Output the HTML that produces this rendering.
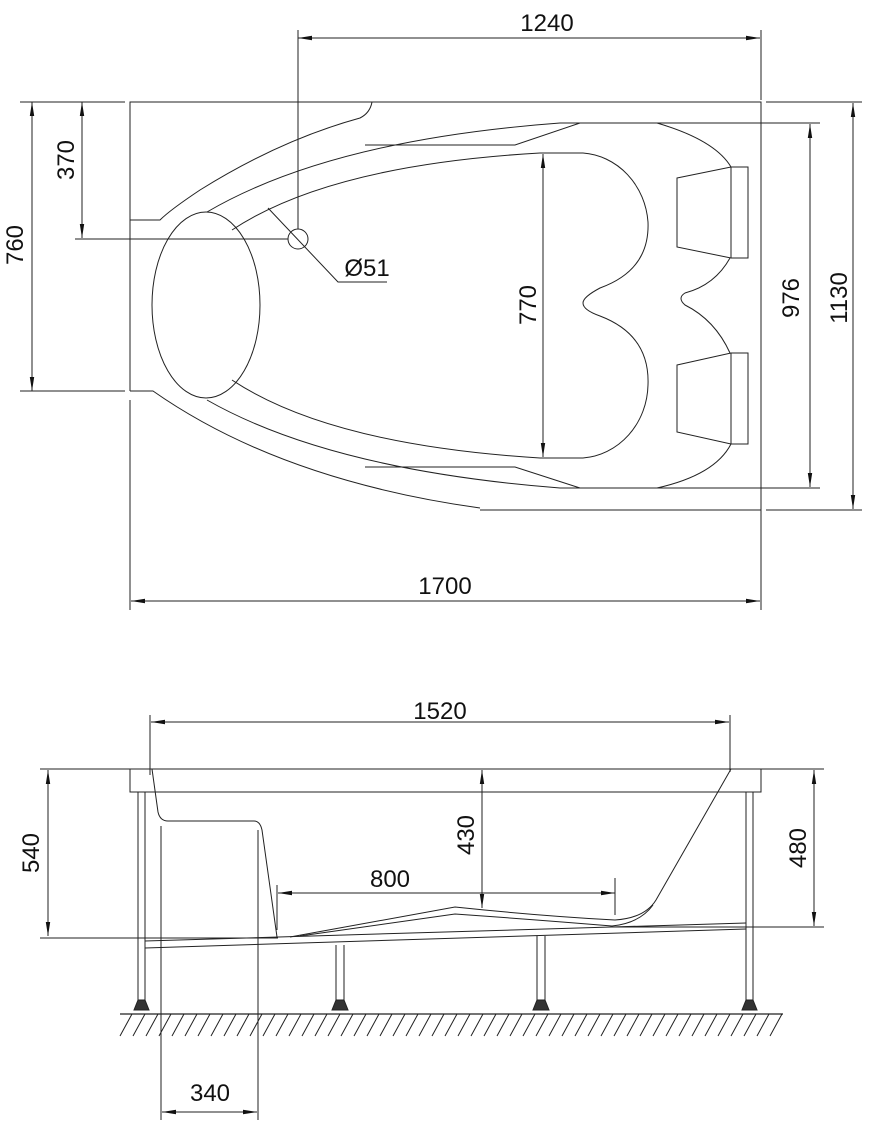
<!DOCTYPE html>
<html><head><meta charset="utf-8"><style>
html,body{margin:0;padding:0;background:#fff}
svg{display:block}
text{font-family:"Liberation Sans",sans-serif;font-size:24px;fill:#111;text-anchor:middle}
</style></head><body>
<svg width="869" height="1140" viewBox="0 0 869 1140" xmlns="http://www.w3.org/2000/svg">
<defs>
<marker id="a" markerWidth="14" markerHeight="6" refX="14" refY="3" orient="auto" markerUnits="userSpaceOnUse"><path d="M0,0.8 L14,3 L0,5.2z" fill="#111"/></marker>
<marker id="b" markerWidth="14" markerHeight="6" refX="0" refY="3" orient="auto" markerUnits="userSpaceOnUse"><path d="M14,0.8 L0,3 L14,5.2z" fill="#111"/></marker>
</defs>
<g fill="none" stroke="#222" stroke-width="1">
<path d="M130,391 V102 H761 V510 H480"/>
<path d="M130,220 H160 Q170,210 200,190 Q280,140 360,118 Q370,113 372,102"/>
<path d="M130,400 V610"/>
<path d="M130,391 H153 Q280,480 480,508"/>
<path d="M761,510 V610"/>
<path d="M207,212 Q330,140 560,123 H820"/>
<path d="M207,400 Q330,470 560,488 H820"/>
<path d="M232,230 Q330,165 540,153 H583 A70,75 0 0 1 648,222 Q650,270 600,288 Q583,297 583,303 Q583,310 600,316 Q650,335 648,385 A70,75 0 0 1 583,458 H540 Q330,445 232,380"/>
<path d="M365,145 H515 L580,123"/>
<path d="M365,467 H515 L580,488"/>
<ellipse cx="206" cy="305" rx="54" ry="93"/>
<path d="M657,123 Q715,140 731,167"/>
<path d="M677,178 L731,167 H748 V258 H731 L677,247 Z"/>
<path d="M731,167 V258"/>
<path d="M730,258 Q715,285 685,293 Q677,298 685,305 Q715,320 730,353"/>
<path d="M677,365 L731,353 H748 V444 H731 L677,432 Z"/>
<path d="M731,353 V444"/>
<path d="M731,444 Q715,475 657,488"/>
<circle cx="298" cy="239" r="10"/>
<path d="M75,239 H288"/>
<path d="M298,30 V229"/>
<path d="M268,208 L338,282 H387"/>
<path d="M298,38 H760" marker-start="url(#b)" marker-end="url(#a)"/>
<path d="M761,30 V100"/>
<path d="M20,102 H125"/><path d="M20,391 H125"/>
<path d="M32,102 V391" marker-start="url(#b)" marker-end="url(#a)"/>
<path d="M82,102 V238" marker-start="url(#b)" marker-end="url(#a)"/>
<path d="M810,124 V487" marker-start="url(#b)" marker-end="url(#a)"/>
<path d="M766,102 H862"/><path d="M766,510 H862"/>
<path d="M853,103 V509" marker-start="url(#b)" marker-end="url(#a)"/>
<path d="M543,154 V457" marker-start="url(#b)" marker-end="url(#a)"/>
<path d="M131,601 H760" marker-start="url(#b)" marker-end="url(#a)"/>
<rect x="130" y="769" width="631" height="23"/>
<path d="M761,769 H824"/><path d="M40,769 H130"/>
<path d="M150,715 V775"/><path d="M730,715 V772"/>
<path d="M151,722 H729" marker-start="url(#b)" marker-end="url(#a)"/>
<path d="M48,770 V936" marker-start="url(#b)" marker-end="url(#a)"/>
<path d="M40,938 H278"/>
<path d="M814,770 V926" marker-start="url(#b)" marker-end="url(#a)"/>
<path d="M610,927 H824"/>
<path d="M482,770 V908" marker-start="url(#b)" marker-end="url(#a)"/>
<path d="M278,893 H615" marker-start="url(#b)" marker-end="url(#a)"/>
<path d="M277,885 V930"/><path d="M615,878 V915"/>
<path d="M161,826 V1120"/><path d="M258,830 V1120"/>
<path d="M162,1112 H257" marker-start="url(#b)" marker-end="url(#a)"/>
<path d="M152,769 L158,812 Q160,821 168,821 H254 Q260,821 262,830 L277,937"/>
<path d="M731,769 L656,900 Q645,918 615,920 Q540,916 455,907 L290,937"/>
<path d="M653,905 Q640,923 612,926 Q540,920 455,914 L300,936"/>
<path d="M145,941 L746,923"/>
<path d="M145,948 L746,929"/>
<path d="M138,792 V1000 M145,792 V1000"/>
<path d="M746,792 V1000 M753,792 V1000"/>
<path d="M336,945 V1000 M344,945 V1000"/>
<path d="M537,936 V1000 M545,936 V1000"/>
<path d="M120,1014 H783" stroke-width="1.2"/>
</g>
<g fill="#333" stroke="#222">
<path d="M138,1000 L134,1010 H149 L145,1000Z"/>
<path d="M336,1000 L332,1010 H348 L344,1000Z"/>
<path d="M537,1000 L533,1010 H549 L545,1000Z"/>
<path d="M746,1000 L742,1010 H757 L753,1000Z"/>
</g>
<g stroke="#222" stroke-width="1" fill="none">
<path d="M132,1014 l-12,22 M145,1014 l-12,22 M158,1014 l-12,22 M171,1014 l-12,22 M184,1014 l-12,22 M197,1014 l-12,22 M210,1014 l-12,22 M223,1014 l-12,22 M236,1014 l-12,22 M249,1014 l-12,22 M262,1014 l-12,22 M275,1014 l-12,22 M288,1014 l-12,22 M301,1014 l-12,22 M314,1014 l-12,22 M327,1014 l-12,22 M340,1014 l-12,22 M353,1014 l-12,22 M366,1014 l-12,22 M379,1014 l-12,22 M392,1014 l-12,22 M405,1014 l-12,22 M418,1014 l-12,22 M431,1014 l-12,22 M444,1014 l-12,22 M457,1014 l-12,22 M470,1014 l-12,22 M483,1014 l-12,22 M496,1014 l-12,22 M509,1014 l-12,22 M522,1014 l-12,22 M535,1014 l-12,22 M548,1014 l-12,22 M561,1014 l-12,22 M574,1014 l-12,22 M587,1014 l-12,22 M600,1014 l-12,22 M613,1014 l-12,22 M626,1014 l-12,22 M639,1014 l-12,22 M652,1014 l-12,22 M665,1014 l-12,22 M678,1014 l-12,22 M691,1014 l-12,22 M704,1014 l-12,22 M717,1014 l-12,22 M730,1014 l-12,22 M743,1014 l-12,22 M756,1014 l-12,22 M769,1014 l-12,22 M782,1014 l-12,22"/>
</g>
<text x="547" y="31">1240</text>
<text x="367" y="276">Ø51</text>
<text x="445" y="594">1700</text>
<text x="440" y="719">1520</text>
<text x="390" y="887">800</text>
<text x="210" y="1101">340</text>
<text transform="translate(23,245) rotate(-90)">760</text>
<text transform="translate(74,160) rotate(-90)">370</text>
<text transform="translate(536,305) rotate(-90)">770</text>
<text transform="translate(799,298) rotate(-90)">976</text>
<text transform="translate(847,298) rotate(-90)">1130</text>
<text transform="translate(39,853) rotate(-90)">540</text>
<text transform="translate(474,835) rotate(-90)">430</text>
<text transform="translate(806,848) rotate(-90)">480</text>
</svg>
</body></html>
